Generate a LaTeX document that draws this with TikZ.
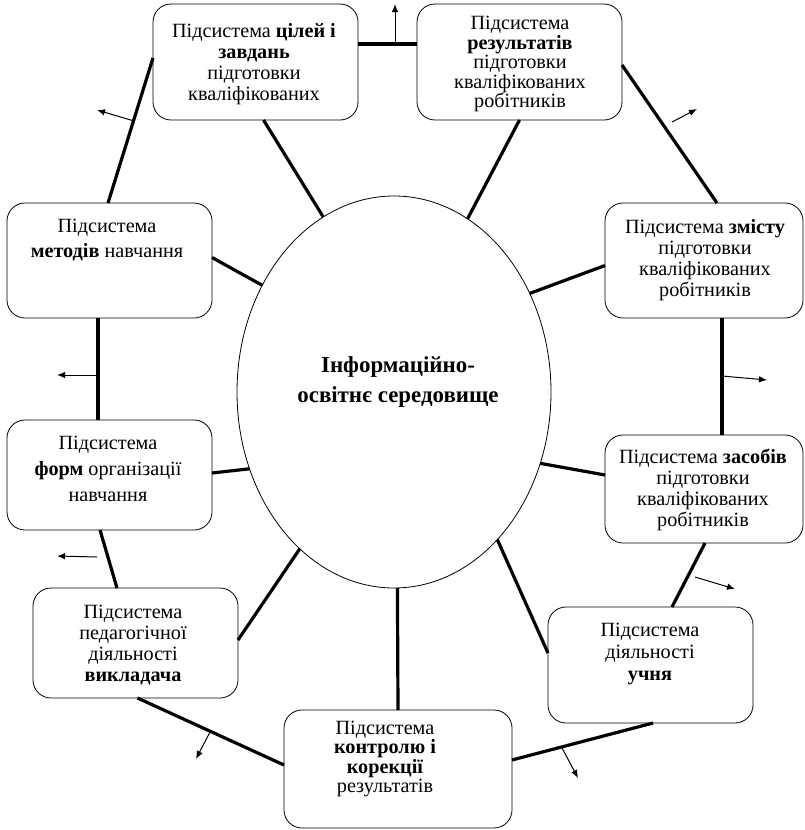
\documentclass[tikz,border=0pt]{standalone}
\usepackage{fontspec}
\setmainfont{Liberation Serif}
\usetikzlibrary{calc,arrows.meta,shapes.geometric}
\begin{document}
\begin{tikzpicture}[x=1bp,y=-1bp,
  box/.style={draw,rounded corners=18bp,line width=0.8bp,inner sep=0,outer sep=0},
  txt/.style={align=center,inner sep=0,font=\fontsize{20.3}{21}\selectfont},
  thk/.style={line width=3.2bp},
  arr/.style={line width=1bp,-{Latex[length=8bp,width=6.5bp]}}]
\useasboundingbox (0,0) rectangle (805,830);
% boxes
\node[box,minimum width=205bp,minimum height=116bp] (b1) at (255.5,62) {};
\node[box,minimum width=205bp,minimum height=116bp] (b2) at (519.5,62) {};
\node[box,minimum width=205bp,minimum height=115bp] (b3) at (109.5,260.5) {};
\node[box,minimum width=198bp,minimum height=115bp] (b4) at (704,260.5) {};
\node[box,minimum width=205bp,minimum height=110bp] (b5) at (109.5,475) {};
\node[box,minimum width=198bp,minimum height=108bp] (b6) at (704,489) {};
\node[box,minimum width=205bp,minimum height=110bp] (b7) at (135.5,643) {};
\node[box,minimum width=228bp,minimum height=118bp] (b8) at (398,769) {};
\node[box,minimum width=205bp,minimum height=116bp] (b9) at (650.5,665) {};
\node[draw,ellipse,line width=0.8bp,minimum width=314bp,minimum height=392bp,inner sep=0,outer sep=0] (e) at (394,392) {};
% texts
\node[txt] (t1) at (254,64) {Підсистема \textbf{цілей і}\\ \textbf{завдань}\\ підготовки\\ кваліфікованих};
\node[txt,font=\fontsize{20.3}{19.6}\selectfont] (t2) at (520,64) {Підсистема\\ \textbf{результатів}\\ підготовки\\ кваліфікованих\\ робітників};
\node[txt,font=\fontsize{20.3}{25}\selectfont] (t3) at (107,240) {Підсистема\\ \textbf{методів} навчання};
\node[txt] (t4) at (705,260) {Підсистема \textbf{змісту}\\ підготовки\\ кваліфікованих\\ робітників};
\node[txt,font=\fontsize{20.3}{26}\selectfont] (t5) at (108,469) {Підсистема\\ \textbf{форм} організації\\ навчання};
\node[txt] (t6) at (703,490) {Підсистема \textbf{засобів}\\ підготовки\\ кваліфікованих\\ робітників};
\node[txt] (t7) at (133,645) {Підсистема\\ педагогічної\\ діяльності\\ \textbf{викладача}};
\node[txt,font=\fontsize{20.3}{19.6}\selectfont] (t8) at (385,759) {Підсистема\\ \textbf{контролю і}\\ \textbf{корекції}\\ результатів};
\node[txt,font=\fontsize{20.3}{22}\selectfont] (t9) at (650,654) {Підсистема\\ діяльності\\ \textbf{учня}};
\node[txt,font=\fontsize{23}{30}\selectfont\bfseries] (te) at (398,382) {Інформаційно-\\ освітнє середовище};
% spokes
\draw[thk] ($(b1.south)+(8,0)$) -- (e.112);
\draw[thk] (b2.south) -- (e.67);
\draw[thk] ($(b3.east)+(0,-3)$) -- (e.141);
\draw[thk] ($(b4.west)+(0,5)$) -- (e.36);
\draw[thk] ($(b5.east)+(0,-2)$) -- (e.208);
\draw[thk] ($(b6.west)+(0,-14)$) -- (e.-26);
\draw[thk] ($(b7.east)+(0,-3)$) -- (e.239.5);
\draw[thk] (b8.north) -- (e.271);
\draw[thk] ($(b9.west)+(0,-12)$) -- (e.-55);
% ring
\draw[thk] ($(b1.east)+(0,-18)$) -- ($(b2.west)+(0,-18)$);
\draw[thk] ($(b1.west)+(0,-4)$) -- ($(b3.north)+(-1.5,0)$);
\draw[thk] ($(b2.east)+(0,3)$) -- ($(b4.north)+(13,0)$);
\draw[thk] ($(b3.south)+(-11.5,0)$) -- ($(b5.north)+(-11.5,0)$);
\draw[thk] ($(b4.south)+(18,0)$) -- ($(b6.north)+(18,0)$);
\draw[thk] ($(b5.south)+(-9.5,0)$) -- ($(b7.north)+(-18.5,0)$);
\draw[thk] ($(b6.south)+(1,0)$) -- ($(b9.north)+(21.5,0)$);
\draw[thk] ($(b7.south)+(2,0)$) -- ($(b8.west)+(0,-4)$);
\draw[thk] ($(b9.south)+(2.5,0)$) -- ($(b8.east)+(0,-9)$);
% arrows
\coordinate (s1) at (395,44);  \coordinate (f1) at (395,4);
\coordinate (s2) at (134,121); \coordinate (f2) at (97,110);
\coordinate (s3) at (672,122); \coordinate (f3) at (697,109);
\coordinate (s4) at (98,375);  \coordinate (f4) at (57,375);
\coordinate (s5) at (722,376); \coordinate (f5) at (767,380);
\coordinate (s6) at (97,557);  \coordinate (f6) at (57,556);
\coordinate (s7) at (695,577); \coordinate (f7) at (735,589);
\coordinate (s8) at (210,732); \coordinate (f8) at (196,759);
\coordinate (s9) at (562,748); \coordinate (f9) at (578,778);
\foreach \i in {1,...,9} {\draw[arr] (s\i) -- (f\i);}
\end{tikzpicture}
\end{document}
